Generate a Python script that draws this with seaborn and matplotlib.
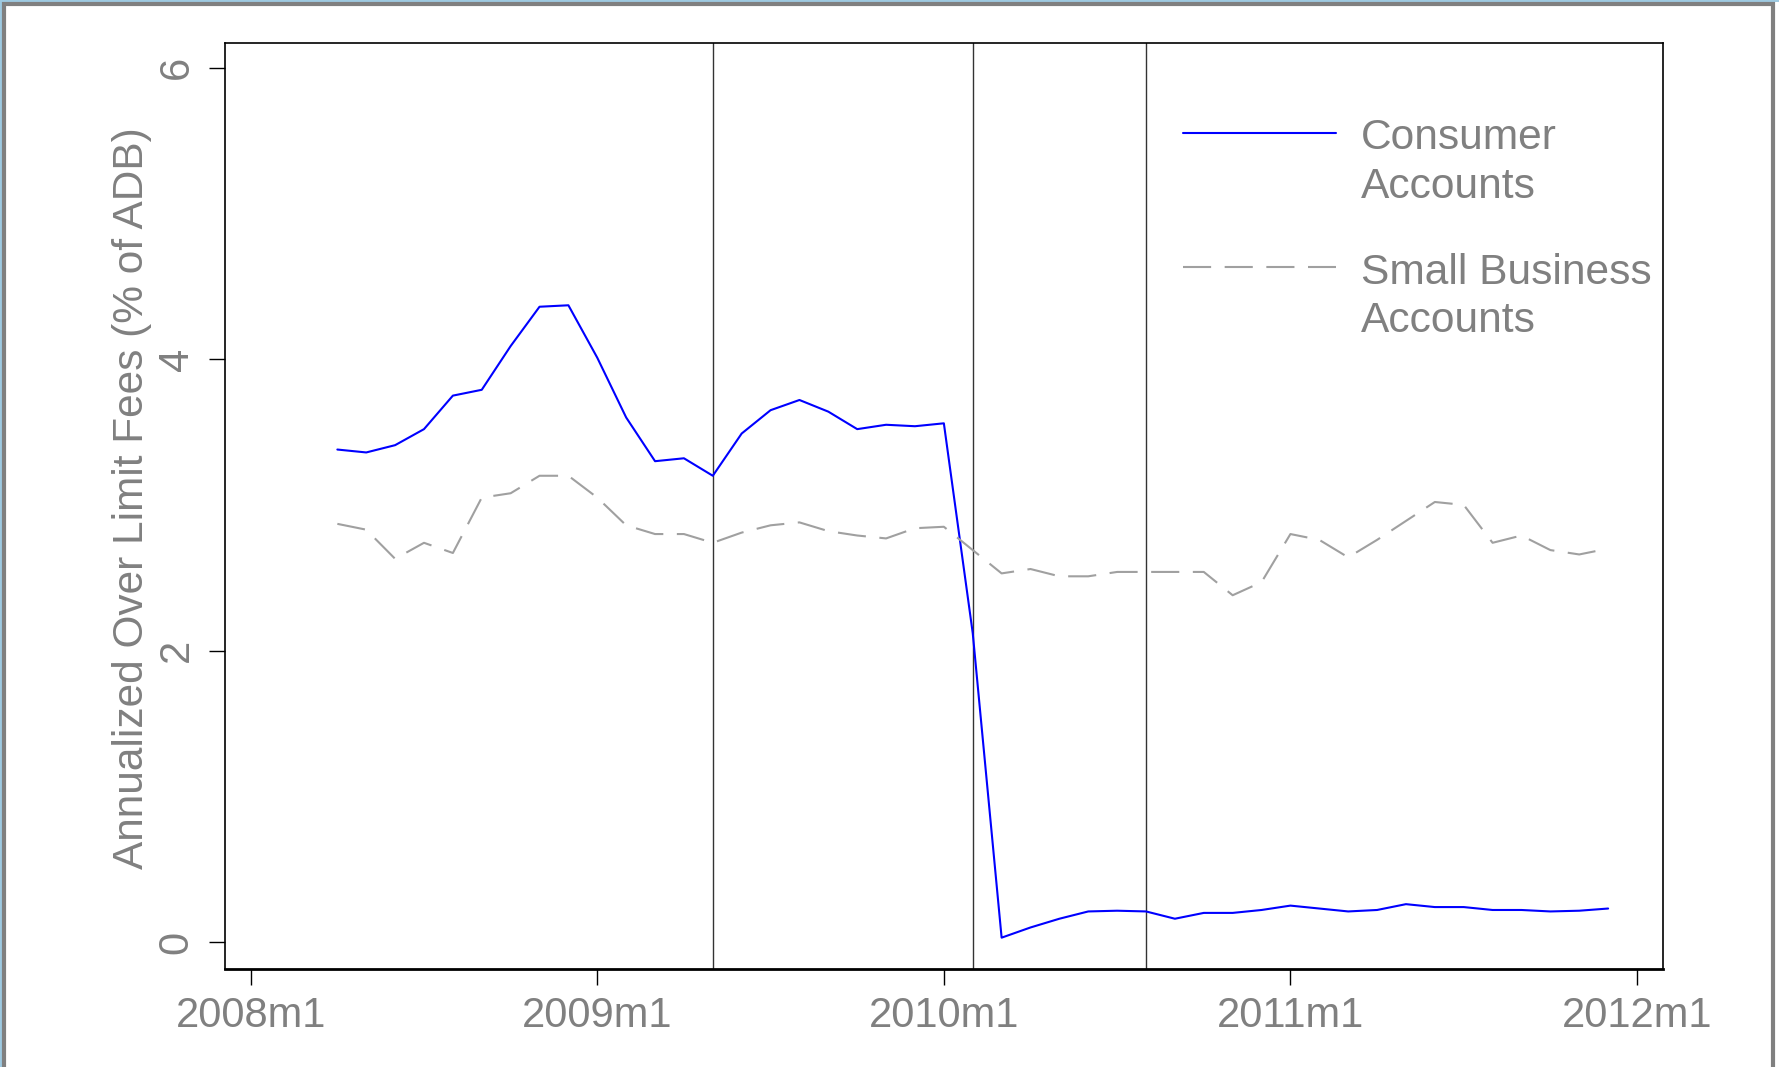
import matplotlib
matplotlib.use("Agg")
import matplotlib.pyplot as plt
from matplotlib.patches import Rectangle
import pandas as pd
import seaborn as sns

# Monthly periods (Stata style yyyy"m"m)
periods = [
    "2008m4", "2008m5", "2008m6", "2008m7", "2008m8", "2008m9", "2008m10", "2008m11", "2008m12",
    "2009m1", "2009m2", "2009m3", "2009m4", "2009m5", "2009m6", "2009m7", "2009m8", "2009m9",
    "2009m10", "2009m11", "2009m12", "2010m1", "2010m2", "2010m3", "2010m4", "2010m5", "2010m6",
    "2010m7", "2010m8", "2010m9", "2010m10", "2010m11", "2010m12", "2011m1", "2011m2", "2011m3",
    "2011m4", "2011m5", "2011m6", "2011m7", "2011m8", "2011m9", "2011m10", "2011m11", "2011m12",
]

consumer = [
    3.38, 3.36, 3.41, 3.52, 3.75, 3.79, 4.09, 4.36, 4.37,
    4.01, 3.60, 3.30, 3.32, 3.20, 3.49, 3.65, 3.72, 3.64,
    3.52, 3.55, 3.54, 3.56, 2.12, 0.03, 0.10, 0.16, 0.21,
    0.215, 0.21, 0.16, 0.20, 0.20, 0.22, 0.25, 0.23, 0.21,
    0.22, 0.26, 0.24, 0.24, 0.22, 0.22, 0.21, 0.215, 0.23,
]

small_business = [
    2.87, 2.83, 2.63, 2.74, 2.67, 3.05, 3.08, 3.20, 3.20,
    3.05, 2.86, 2.80, 2.80, 2.74, 2.81, 2.86, 2.88, 2.82,
    2.79, 2.77, 2.84, 2.85, 2.69, 2.53, 2.56, 2.51, 2.51,
    2.54, 2.54, 2.54, 2.54, 2.38, 2.47, 2.80, 2.76, 2.64,
    2.76, 2.89, 3.02, 3.00, 2.74, 2.79, 2.69, 2.66, 2.70,
]

event_periods = ["2009m5", "2010m2", "2010m8"]
xtick_labels = ["2008m1", "2009m1", "2010m1", "2011m1", "2012m1"]
ytick_values = [0, 2, 4, 6]
series_labels = ["Consumer\nAccounts", "Small Business\nAccounts"]
ylabel = "Annualized Over Limit Fees (% of ADB)"


def month_index(p):
    """Months elapsed since 2008m1."""
    y, m = p.split("m")
    return (int(y) - 2008) * 12 + int(m) - 1


df = pd.DataFrame({
    "t": [month_index(p) for p in periods],
    "consumer": consumer,
    "small_business": small_business,
})

sns.set_style("ticks")
plt.rcParams["font.family"] = ["Liberation Sans", "DejaVu Sans"]
TXT = "#808080"

fig = plt.figure(figsize=(17.79, 10.67), dpi=100)
W, H = 1779, 1067
ax = fig.add_axes([225 / W, 98 / H, 1438 / W, 926 / H])

sns.lineplot(data=df, x="t", y="consumer", ax=ax, color="#0000ff", lw=1.5,
             label=series_labels[0])
sns.lineplot(data=df, x="t", y="small_business", ax=ax, color="#a0a0a0", lw=1.5,
             label=series_labels[1])
ax.lines[1].set_dashes((13.5, 6.5))

for p in event_periods:
    ax.axvline(month_index(p), color="#333333", lw=1.0, zorder=1)

ax.set_xlim(-0.89, 48.9)
ax.set_ylim(-0.185, 6.17)
ax.set_xticks([month_index(l) for l in xtick_labels])
ax.set_xticklabels(xtick_labels)
ax.set_yticks(ytick_values)
ax.set_yticklabels([str(v) for v in ytick_values], rotation=90, va="center")
ax.tick_params(axis="both", length=11.5, width=1.0, color="black",
               labelsize=30, labelcolor=TXT)
ax.tick_params(axis="y", pad=9)
ax.tick_params(axis="x", pad=8)
ax.set_xlabel("")
ax.set_ylabel(ylabel, fontsize=30.5, color=TXT, labelpad=3)
ax.yaxis.label.set_y(0.509)
for s in ax.spines.values():
    s.set_color("black")
    s.set_linewidth(1.2)
    s.set_visible(True)
ax.spines["bottom"].set_linewidth(2.0)

leg = ax.legend(loc="upper left", bbox_to_anchor=(1183 / W, 1 - 118 / H),
                bbox_transform=fig.transFigure, frameon=False, fontsize=30.6,
                handlelength=3.6, handletextpad=0.58, labelspacing=1.08,
                borderpad=0, borderaxespad=0)
for t in leg.get_texts():
    t.set_color(TXT)
    t.set_linespacing(1.28)
# keep each legend key level with the first line of its label
for row in leg._legend_handle_box.get_children():
    for item in row.get_children():
        item.align = "top"

# Outer graph frame
fig.patches.append(Rectangle((0, 0), 2 / W, 1, transform=fig.transFigure,
                             facecolor="#9ecae1", edgecolor="none", zorder=0))
fig.patches.append(Rectangle((0, 1 - 2 / H), 1, 2 / H, transform=fig.transFigure,
                             facecolor="#9ecae1", edgecolor="none", zorder=0))
fig.patches.append(Rectangle((4 / W, -0.05), 1769 / W, 1.05 - 4 / H,
                             transform=fig.transFigure, facecolor="none",
                             edgecolor="#808080", lw=3.0, zorder=0))

fig.savefig("out.png", dpi=100)
